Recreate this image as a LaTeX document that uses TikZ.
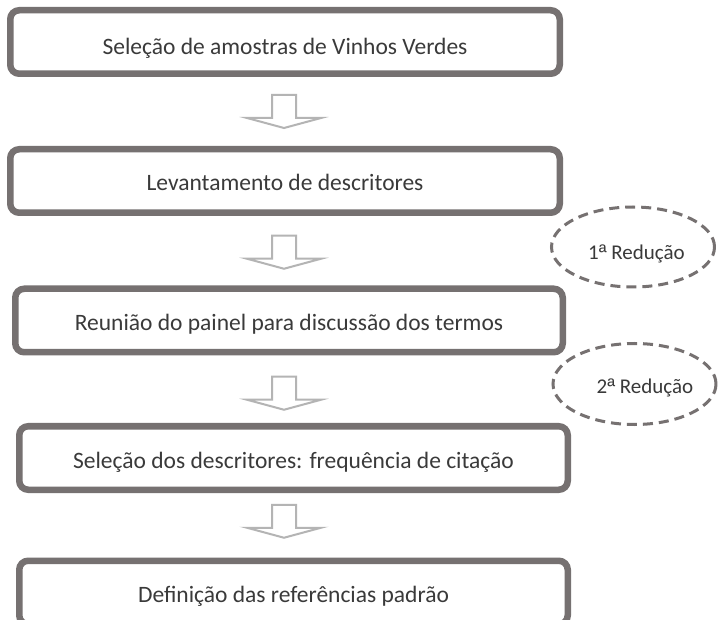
\documentclass[tikz,border=0pt]{standalone}
\usepackage{fontspec}
\setmainfont{Carlito}
\newfontfamily\ordfont{Liberation Sans}
\newcommand\myordfem{{\ordfont ª}}
\usetikzlibrary{calc,shapes.geometric}
\definecolor{boxgray}{HTML}{767171}
\definecolor{arrgray}{HTML}{B4B4B4}
\definecolor{txtgray}{HTML}{3A3A3A}
\tikzset{
  stepbox/.style={draw=boxgray, line width=6.5pt, rounded corners=9pt, fill=white,
    minimum width=549.5pt, minimum height=63.5pt, inner sep=0pt,
    font=\fontsize{23.5}{28}\selectfont, text=txtgray, text height=21pt, text depth=1pt},
  redu/.style={ellipse, draw=boxgray, line width=3pt, dash pattern=on 10pt off 6pt,
    minimum width=163pt, minimum height=80pt, inner sep=0pt},
  redtext/.style={font=\fontsize{21}{25}\selectfont, text=txtgray, inner sep=0pt, anchor=base},
  blockarrow/.style={draw=arrgray, line width=2pt, fill=white, line join=miter},
}
\begin{document}
\begin{tikzpicture}[x=1pt,y=-1pt]
\path[use as bounding box, clip] (0,0) rectangle (718,620);
\fill[white] (0,0) rectangle (718,620);
% boxes
\node[stepbox, text height=27pt] (b1) at (285,42) {Seleção de amostras de Vinhos Verdes};
\node[stepbox] (b2) at (285,181) {Levantamento de descritores};
\node[stepbox, minimum width=547.5pt] (b3) at (289,320.5) {Reunião do painel para discussão dos termos};
\node[stepbox, minimum width=548.5pt] (b4) at (293.5,458) {Seleção dos descritores: frequência de citação};
\node[stepbox, minimum width=548.5pt] (b5) at (293.5,592.5) {Definição das referências padrão};
% block arrows between boxes
\coordinate (m1) at ($(b1.south)!0.5!(b2.north)$);
\coordinate (m2) at ($(b2.south)!0.5!(b3.north)$);
\coordinate (m3) at ($(b3.south)!0.5!(b4.north)$);
\coordinate (m4) at ($(b4.south)!0.5!(b5.north)$);
\coordinate (a1) at ($(m1 -| b1.south)+(-1,0)$);
\coordinate (a2) at ($(m2 -| b1.south)+(-1,1.5)$);
\coordinate (a3) at ($(m3 -| b1.south)+(-1,4)$);
\coordinate (a4) at ($(m4 -| b1.south)+(-1,-4)$);
\foreach \a in {a1,a2,a3,a4}
  \draw[blockarrow, shift={(\a)}] (-12,-16.5) -- (12,-16.5) -- (12,6.5) -- (37,6.5)
     -- (0,16.5) -- (-37,6.5) -- (-12,6.5) -- cycle;
% reductions
\node[redu] (r1) at (633,247) {};
\node[redtext] (t1) at (636.5,260) {1\myordfem\ Redução};
\node[redu, minimum height=81pt] (r2) at (634.5,384) {};
\node[redtext] (t2) at (645,394) {2\myordfem\ Redução};
\end{tikzpicture}
\end{document}
